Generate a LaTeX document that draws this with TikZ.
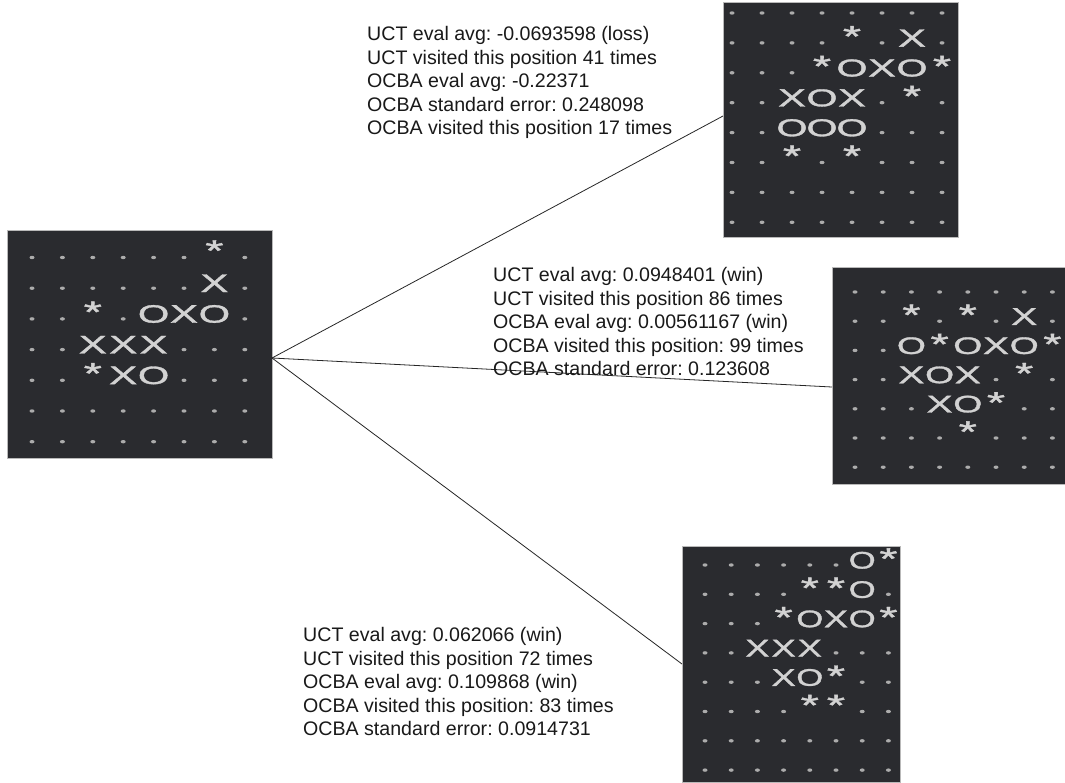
\documentclass[tikz,border=0pt]{standalone}
\usepackage{fontspec}
\setmainfont{Liberation Sans}
\newfontface\boardfont{Liberation Sans}[FakeBold=1.2]
\usepackage{graphicx}
\frenchspacing
\definecolor{boardbg}{RGB}{42,43,47}
\definecolor{glyphc}{RGB}{210,210,210}
\definecolor{dotc}{RGB}{172,172,172}
\definecolor{txtc}{RGB}{25,25,25}
\tikzset{
  boardbox/.style={draw=gray!55, line width=0.7pt, fill=boardbg, inner sep=0pt, outer sep=0pt, anchor=north west},
  glyph/.style={inner sep=0pt, outer sep=0pt, text=glyphc, font=\boardfont},
  starg/.style={inner sep=0pt, outer sep=0pt, anchor=base, text=glyphc},
  info/.style={anchor=north west, align=left, inner sep=0pt, text=txtc, font=\fontsize{19.6}{23.6}\selectfont},
  link/.style={draw=black!85, line width=0.8pt}
}
% cell drawers: #1 board, #2 column, #3 row, #4 x0, #5 y0, #6 dx, #7 dy
\newcommand\bcD[7]{\fill[dotc] ({#4+(#2-1)*#6},{#5+(#3-1)*#7}) ellipse [x radius=2.5pt, y radius=1.7pt];}
\newcommand\bcX[7]{\node[glyph] (#1-#3-#2) at ({#4+(#2-1)*#6},{#5+(#3-1)*#7-0.16*#7}) {\resizebox{0.92\dimexpr#6pt\relax}{0.57\dimexpr#7pt\relax}{X}};}
\newcommand\bcO[7]{\node[glyph] (#1-#3-#2) at ({#4+(#2-1)*#6},{#5+(#3-1)*#7-0.16*#7}) {\resizebox{1.03\dimexpr#6pt\relax}{0.57\dimexpr#7pt\relax}{O}};}
\newcommand\bcS[7]{\node[starg] (#1-#3-#2) at ({#4+(#2-1)*#6},{#5+(#3-1)*#7-0.41*#7+16}) {\boardfont\fontsize{30}{30}\selectfont\scalebox{1.55}[1]{*}};}
\newcommand\drawboard[6]{%
  \foreach \rowlist [count=\rr] in {#6} {
    \foreach \cc [count=\kk] in \rowlist {
      \csname bc\cc\endcsname{#1}{\kk}{\rr}{#2}{#3}{#4}{#5}
    }
  }
}
\begin{document}
\begin{tikzpicture}[x=1pt,y=-1pt]
\useasboundingbox (0,0) rectangle (1065,782);
\fill[white] (0,0) rectangle (1065,782);

% boards
\node[boardbox, minimum width=265pt, minimum height=228pt] (L) at (7,230) {};
\node[boardbox, minimum width=235pt, minimum height=235pt] (TR) at (723,2) {};
\node[boardbox, minimum width=233pt, minimum height=217pt] (MR) at (832,267) {};
\node[boardbox, minimum width=218pt, minimum height=236pt] (BR) at (682,546) {};

\drawboard{L}{32}{257.5}{30.4}{30.7}{
  {D,D,D,D,D,D,S,D},
  {D,D,D,D,D,D,X,D},
  {D,D,S,D,O,X,O,D},
  {D,D,X,X,X,D,D,D},
  {D,D,S,X,O,D,D,D},
  {D,D,D,D,D,D,D,D},
  {D,D,D,D,D,D,D,D}}

\drawboard{TR}{732}{13}{30}{29.9}{
  {D,D,D,D,D,D,D,D},
  {D,D,D,D,S,D,X,D},
  {D,D,D,S,O,X,O,S},
  {D,D,X,O,X,D,S,D},
  {D,D,O,O,O,D,D,D},
  {D,D,S,D,S,D,D,D},
  {D,D,D,D,D,D,D,D},
  {D,D,D,D,D,D,D,D}}

\drawboard{MR}{855}{292}{28.2}{29.2}{
  {D,D,D,D,D,D,D,D},
  {D,D,S,D,S,D,X,D},
  {D,D,O,S,O,X,O,S},
  {D,D,X,O,X,D,S,D},
  {D,D,D,X,O,S,D,D},
  {D,D,D,D,S,D,D,D},
  {D,D,D,D,D,D,D,D}}

\drawboard{BR}{705}{565}{26.2}{29.3}{
  {D,D,D,D,D,D,O,S},
  {D,D,D,D,S,S,O,D},
  {D,D,D,S,O,X,O,S},
  {D,D,X,X,X,D,D,D},
  {D,D,D,X,O,S,D,D},
  {D,D,D,D,S,S,D,D},
  {D,D,D,D,D,D,D,D},
  {D,D,D,D,D,D,D,D}}

% connectors
\coordinate (hub) at ([yshift=-14pt]L.east);
\draw[link] (hub) -- ([yshift=3.5pt]TR.west);
\draw[link] (hub) -- ([yshift=-11.5pt]MR.west);
\draw[link] (hub) -- (BR.west);

% info texts
\node[info] (t1) at (367,26) {UCT eval avg: -0.0693598 (loss)\\UCT visited this position 41 times\\OCBA eval avg: -0.22371\\OCBA standard error: 0.248098\\OCBA visited this position 17 times};
\node[info] (t2) at (493,267) {UCT eval avg: 0.0948401 (win)\\UCT visited this position 86 times\\OCBA eval avg: 0.00561167 (win)\\OCBA visited this position: 99 times\\OCBA standard error: 0.123608};
\node[info] (t3) at (303,627) {UCT eval avg: 0.062066 (win)\\UCT visited this position 72 times\\OCBA eval avg: 0.109868 (win)\\OCBA visited this position: 83 times\\OCBA standard error: 0.0914731};
\end{tikzpicture}
\end{document}
